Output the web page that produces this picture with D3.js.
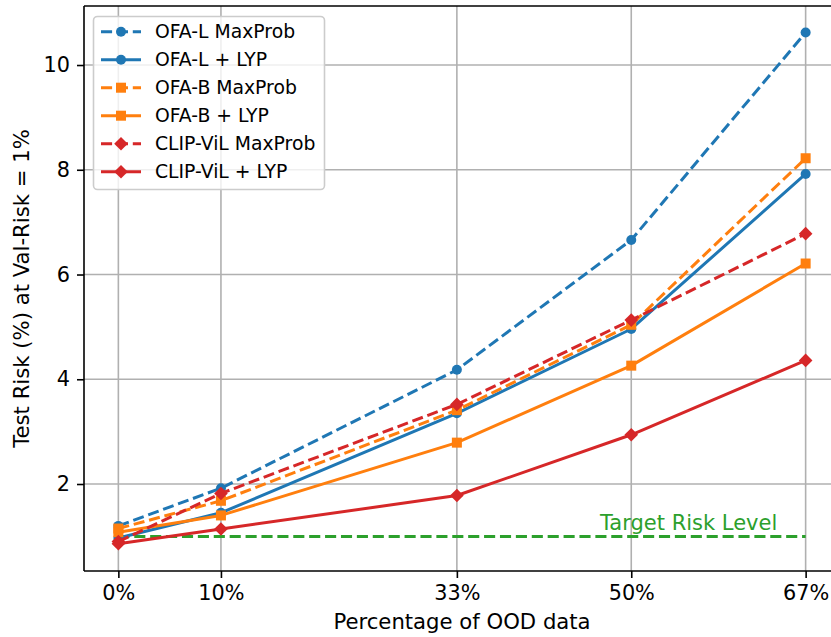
<!DOCTYPE html>
<html>
<head>
<meta charset="utf-8">
<script src="https://cdn.jsdelivr.net/npm/d3@7"></script>
<style>
  body { margin: 0; background: #ffffff; }
  svg { display: block; font-family: "DejaVu Sans", sans-serif; }
</style>
</head>
<body>
<svg id="chart" width="831" height="637"></svg>
<script>
// ---------- Data ----------
const xValues = [0, 10, 33, 50, 67];
const xTickLabels = ["0%", "10%", "33%", "50%", "67%"];
const yTicks = [2, 4, 6, 8, 10];

const ofaLMaxProb = [1.20, 1.92, 4.18, 6.66, 10.62];
const ofaLLyp     = [0.97, 1.45, 3.35, 4.96, 7.92];
const ofaBMaxProb = [1.15, 1.68, 3.41, 5.04, 8.22];
const ofaBLyp     = [1.08, 1.40, 2.79, 4.26, 6.21];
const clipMaxProb = [0.90, 1.82, 3.52, 5.13, 6.78];
const clipLyp     = [0.86, 1.14, 1.78, 2.94, 4.36];
const targetRisk  = 1.0;

const seriesNames = ["OFA-L MaxProb", "OFA-L + LYP", "OFA-B MaxProb", "OFA-B + LYP", "CLIP-ViL MaxProb", "CLIP-ViL + LYP"];
const seriesValues = [ofaLMaxProb, ofaLLyp, ofaBMaxProb, ofaBLyp, clipMaxProb, clipLyp];
const seriesColors = ["#1f77b4", "#1f77b4", "#ff7f0e", "#ff7f0e", "#d62728", "#d62728"];
const seriesDashed = [true, false, true, false, true, false];
const seriesMarkers = ["circle", "circle", "square", "square", "diamond", "diamond"];

// ---------- Layout ----------
const svg = d3.select("#chart");
const plot = { left: 84, right: 840, top: 6, bottom: 571 };

const x = d3.scaleLinear().domain([-3.35, 70.35]).range([plot.left, plot.right]);
const y = d3.scaleLinear().domain([0.339, 11.127]).range([plot.bottom, plot.top]);

const gridColor = "#b0b0b0";

// grid
const grid = svg.append("g");
grid.selectAll("line.gx").data(xValues).enter().append("line")
  .attr("x1", d => x(d)).attr("x2", d => x(d))
  .attr("y1", plot.top).attr("y2", plot.bottom)
  .attr("stroke", gridColor).attr("stroke-width", 1.6);
grid.selectAll("line.gy").data(yTicks).enter().append("line")
  .attr("x1", plot.left).attr("x2", plot.right)
  .attr("y1", d => y(d)).attr("y2", d => y(d))
  .attr("stroke", gridColor).attr("stroke-width", 1.6);

// axes
const xAxis = d3.axisBottom(x).tickValues(xValues)
  .tickFormat((d, i) => xTickLabels[i]).tickSize(7).tickPadding(7).tickSizeOuter(0);
const gx = svg.append("g").attr("transform", `translate(0,${plot.bottom})`).call(xAxis);
const yAxis = d3.axisLeft(y).tickValues(yTicks).tickFormat(d3.format("d"))
  .tickSize(7).tickPadding(7).tickSizeOuter(0);
const gy = svg.append("g").attr("transform", `translate(${plot.left},0)`).call(yAxis);
[gx, gy].forEach(g => {
  g.select(".domain").remove();
  g.selectAll(".tick line").attr("stroke", "#000").attr("stroke-width", 1.6);
  g.selectAll(".tick text").attr("fill", "#000").style("font-size", "20.8px")
    .style("font-family", "DejaVu Sans, sans-serif");
});

// target risk line
svg.append("line")
  .attr("x1", x(xValues[0])).attr("x2", x(xValues[xValues.length - 1]))
  .attr("y1", y(targetRisk)).attr("y2", y(targetRisk))
  .attr("stroke", "#2ca02c").attr("stroke-width", 3)
  .attr("stroke-dasharray", "11.1,4.8");
svg.append("text")
  .attr("x", 600).attr("y", y(targetRisk) - 6)
  .attr("fill", "#2ca02c").style("font-size", "21px")
  .text("Target Risk Level");

// marker helper
function drawMarker(g, type, cx, cy, color) {
  if (type === "circle") {
    g.append("circle").attr("cx", cx).attr("cy", cy).attr("r", 5).attr("fill", color);
  } else if (type === "square") {
    g.append("rect").attr("x", cx - 5).attr("y", cy - 5).attr("width", 10).attr("height", 10).attr("fill", color);
  } else {
    const h = 6.8;
    g.append("path").attr("d", `M${cx},${cy - h}L${cx + h},${cy}L${cx},${cy + h}L${cx - h},${cy}Z`).attr("fill", color);
  }
}

// series
const line = d3.line().x((d, i) => x(xValues[i])).y(d => y(d));
seriesValues.forEach((vals, s) => {
  const g = svg.append("g");
  g.append("path").datum(vals).attr("d", line)
    .attr("fill", "none").attr("stroke", seriesColors[s]).attr("stroke-width", 3)
    .attr("stroke-dasharray", seriesDashed[s] ? "11.1,4.8" : null)
    .attr("stroke-linejoin", "round");
  vals.forEach((v, i) => drawMarker(g, seriesMarkers[s], x(xValues[i]), y(v), seriesColors[s]));
});

// spines
svg.append("line").attr("x1", plot.left).attr("x2", plot.left).attr("y1", plot.top).attr("y2", plot.bottom)
  .attr("stroke", "#000").attr("stroke-width", 1.6);
svg.append("line").attr("x1", plot.left).attr("x2", plot.right).attr("y1", plot.bottom).attr("y2", plot.bottom)
  .attr("stroke", "#000").attr("stroke-width", 1.6);
svg.append("line").attr("x1", plot.left).attr("x2", plot.right).attr("y1", plot.top).attr("y2", plot.top)
  .attr("stroke", "#000").attr("stroke-width", 1.6);
svg.append("line").attr("x1", plot.right).attr("x2", plot.right).attr("y1", plot.top).attr("y2", plot.bottom)
  .attr("stroke", "#000").attr("stroke-width", 1.6);

// axis labels
svg.append("text").attr("x", (plot.left + plot.right) / 2).attr("y", 629)
  .attr("text-anchor", "middle").style("font-size", "21.2px").attr("fill", "#000")
  .text("Percentage of OOD data");
svg.append("text")
  .attr("transform", `translate(29,${(plot.top + plot.bottom) / 2}) rotate(-90)`)
  .attr("text-anchor", "middle").style("font-size", "21.2px").attr("fill", "#000")
  .text("Test Risk (%) at Val-Risk = 1%");

// legend
const legend = svg.append("g");
legend.append("rect").attr("x", 93.5).attr("y", 16.5).attr("width", 231).attr("height", 173)
  .attr("rx", 4).attr("fill", "#ffffff").attr("fill-opacity", 0.8)
  .attr("stroke", "#cccccc").attr("stroke-width", 1.6);
seriesNames.forEach((name, s) => {
  const cy = 31.7 + s * 28;
  legend.append("line").attr("x1", 101).attr("x2", 141).attr("y1", cy).attr("y2", cy)
    .attr("stroke", seriesColors[s]).attr("stroke-width", 3)
    .attr("stroke-dasharray", seriesDashed[s] ? "11.1,4.8" : null);
  drawMarker(legend, seriesMarkers[s], 121, cy, seriesColors[s]);
  legend.append("text").attr("x", 155).attr("y", cy).attr("dy", "0.36em")
    .style("font-size", "18.8px").attr("fill", "#000").text(name);
});
</script>
</body>
</html>
